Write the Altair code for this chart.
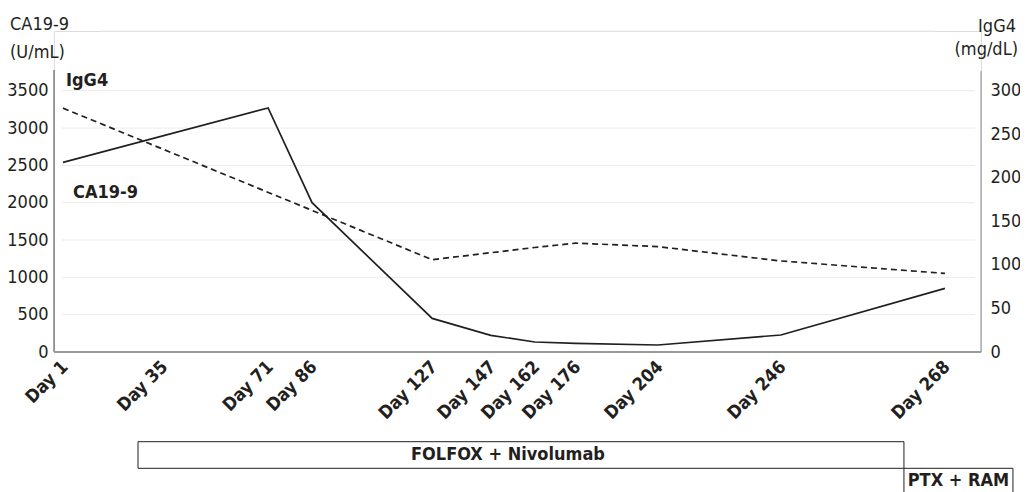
import altair as alt
import pandas as pd

# ---- data ----
day_labels = ["Day 1", "Day 35", "Day 71", "Day 86", "Day 127", "Day 147",
              "Day 162", "Day 176", "Day 204", "Day 246", "Day 268"]
# position of each time point along the drawn time axis (in day units as drawn)
plot_pos = [1, 35, 71, 86, 127, 147, 162, 176, 204, 246, 302]
ca199 = [2540, None, 3270, 2000, 450, 223, 134, 116, 94, 228, 853]       # U/mL
igg4 = [280, None, None, None, 106, 114, 120, 125, 121, 104.5, 90.3]    # mg/dL

left_ticks = [0, 500, 1000, 1500, 2000, 2500, 3000, 3500]
right_ticks = [0, 50, 100, 150, 200, 250, 300]
grid_vals = [500, 1000, 1500, 2000, 2500, 3000, 3500]

treatments = ["FOLFOX + Nivolumab", "PTX + RAM"]
treat_start = [26.6, 288.0]
treat_end = [288.0, 325.2]

# ---- layout ----
W, H = 927, 321
INK = "#231f20"
FONT = "DejaVu Sans Condensed"
LMAX = 4300
RMAX = LMAX * 300 / 3500

xscale = alt.Scale(domain=[-2.07, 314.3], nice=False, zero=False)
yl = alt.Scale(domain=[0, LMAX], nice=False, zero=True)
yr = alt.Scale(domain=[0, RMAX], nice=False, zero=True)

label_expr = "".join(f"datum.value == {p} ? '{l}' : " for p, l in zip(plot_pos, day_labels)) + "''"
x_axis = alt.Axis(
    values=plot_pos, labelExpr=label_expr, labelAngle=-45, labelAlign="right",
    labelBaseline="middle", labelFont=FONT, labelFontWeight="bold", labelFontSize=18,
    labelColor=INK, labelPadding=12, labelOffset=2, ticks=False, domain=False, grid=False,
    title=None, labelOverlap=False, labelFlush=False, labelBound=False)

ca_df = pd.DataFrame({"pos": plot_pos, "v": ca199}).dropna()
ig_df = pd.DataFrame({"pos": plot_pos, "v": igg4}).dropna()
grid_df = pd.DataFrame({"g": grid_vals})
tr_df = pd.DataFrame({"name": treatments, "s": treat_start, "e": treat_end})
one = pd.DataFrame({"k": [0]})

grid = alt.Chart(grid_df).mark_rule(color="#ebebeb", strokeWidth=1).encode(
    y=alt.Y("g:Q", scale=yl, axis=None),
    x=alt.value(8), x2=alt.value(921),
)
top_line = alt.Chart(one).mark_rule(color="#ebebeb", strokeWidth=1).encode(
    x=alt.value(46), x2=alt.value(880), y=alt.value(0)
)

ca_line = alt.Chart(ca_df).mark_line(color=INK, strokeWidth=1.7).encode(
    x=alt.X("pos:Q", scale=xscale, axis=x_axis),
    y=alt.Y("v:Q", scale=yl, axis=alt.Axis(
        values=left_ticks, orient="left", format="d", labelFont=FONT, labelFontSize=18,
        labelColor=INK, labelPadding=6, ticks=False, domain=False, grid=False, title=None,
        labelFlush=False, labelOverlap=False)),
)

ig_line = alt.Chart(ig_df).mark_line(color=INK, strokeWidth=1.7, strokeDash=[6, 4]).encode(
    x=alt.X("pos:Q", scale=xscale, axis=x_axis),
    y=alt.Y("v:Q", scale=yr, axis=alt.Axis(
        values=right_ticks, orient="right", format="d", labelFont=FONT, labelFontSize=18,
        labelColor=INK, labelPadding=9, ticks=False, domain=False, grid=False, title=None,
        labelFlush=False, labelOverlap=False)),
)

left_dom = alt.Chart(one).mark_rule(color="#4a4546", strokeWidth=1).encode(
    x=alt.value(0), y=alt.value(39), y2=alt.value(H))
right_dom = alt.Chart(one).mark_rule(color="#8c8c8c", strokeWidth=1).encode(
    x=alt.value(W), y=alt.value(40), y2=alt.value(H))
bottom_dom = alt.Chart(one).mark_rule(color="#9a9a9a", strokeWidth=2).encode(
    x=alt.value(0), x2=alt.value(W), y=alt.value(H))


def txt(s, x, y, align="left", bold=False, size=18, baseline="alphabetic"):
    return alt.Chart(pd.DataFrame({"t": [s]})).mark_text(
        align=align, baseline=baseline, font=FONT, fontSize=size,
        fontWeight="bold" if bold else "normal", color=INK,
    ).encode(text="t:N", x=alt.value(x), y=alt.value(y))


titles = [
    txt("CA19-9", -44, -1),
    txt("(U/mL)", -44, 27),
    txt("IgG4", 962, 0.5, align="right"),
    txt("(mg/dL)", 964, 24, align="right"),
    txt("IgG4", 12, 50, bold=True, baseline="middle"),
    txt("CA19-9", 19, 162, bold=True, baseline="middle"),
]

rows = [(410.7, 437.3, 423.5, -13), (437.3, 475, 450, 0)]
treat_layers = []
for name, (y0, y1, yt, dx) in zip(treatments, rows):
    d = tr_df[tr_df["name"] == name]
    box = alt.Chart(d).mark_rect(fillOpacity=0, stroke=INK, strokeWidth=1).encode(
        x=alt.X("s:Q", scale=xscale, axis=x_axis), x2="e:Q",
        y=alt.value(y0), y2=alt.value(y1))
    lab = alt.Chart(d).transform_calculate(m="(datum.s + datum.e) / 2").mark_text(
        font=FONT, fontSize=18, fontWeight="bold", color=INK, baseline="middle", dx=dx
    ).encode(x=alt.X("m:Q", scale=xscale, axis=x_axis), y=alt.value(yt), text="name:N")
    treat_layers += [box, lab]

chart = alt.layer(
    grid, top_line, ca_line, ig_line, left_dom, right_dom, bottom_dom,
    *titles, *treat_layers
).resolve_scale(y="independent").properties(
    width=W, height=H,
    autosize=alt.AutoSizeParams(type="none"),
    padding={"left": 46, "top": 23, "right": 39, "bottom": 140},
).configure_view(stroke=None).configure(background="white")

chart.save("out.html", embed_options={"renderer": "svg", "actions": False})
